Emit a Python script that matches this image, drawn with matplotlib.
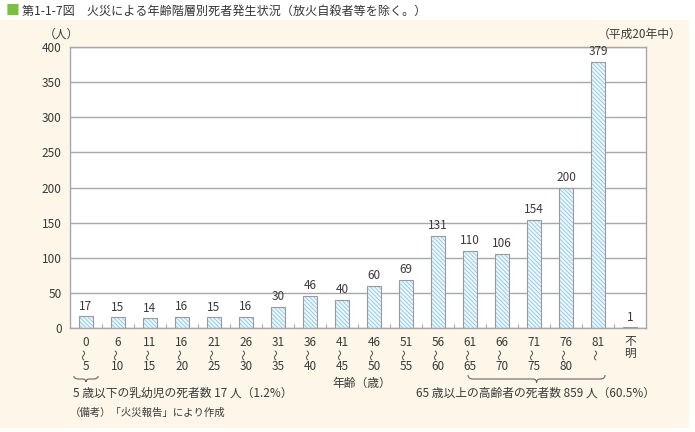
import matplotlib
matplotlib.use("Agg")
import matplotlib.pyplot as plt
from matplotlib.patches import Rectangle
from matplotlib.path import Path
from matplotlib.patches import PathPatch
import numpy as np

plt.rcParams['font.family'] = ['Noto Sans CJK JP', 'DejaVu Sans']
plt.rcParams['hatch.linewidth'] = 0.6

# data
age_top = ['0', '6', '11', '16', '21', '26', '31', '36', '41', '46', '51',
           '56', '61', '66', '71', '76', '81', '不']
age_bottom = ['5', '10', '15', '20', '25', '30', '35', '40', '45', '50', '55',
              '60', '65', '70', '75', '80', '', '明']
deaths = [17, 15, 14, 16, 15, 16, 30, 46, 40, 60, 69, 131, 110, 106, 154, 200, 379, 1]

W, H = 695, 432
fig = plt.figure(figsize=(W / 100, H / 100), dpi=100)
fig.patch.set_facecolor('white')

bg = '#fdf6e9'
fig.patches.append(Rectangle((0, 4 / H), 689 / W, 1 - 24 / H, transform=fig.transFigure,
                             facecolor=bg, edgecolor='none', zorder=-10))

ax = fig.add_axes([70 / W, 1 - 328 / H, 576 / W, 281 / H])
ax.set_facecolor('white')

txt = '#3a3a3a'
grid = '#a8a8a8'
x = np.arange(len(deaths))
bw = 0.42
ax.bar(x, deaths, width=bw, color='#eef7fc', edgecolor='#86c6e8', hatch='\\' * 8,
       linewidth=0, zorder=2)
ax.bar(x, deaths, width=bw, color='none', edgecolor='#9a9a9a', linewidth=0.8, zorder=3)
for xi, v in zip(x, deaths):
    ax.text(xi, v + 5, str(v), ha='center', va='bottom', fontsize=8.5, color=txt)

ax.set_xlim(-0.5, len(deaths) - 0.5)
ax.set_ylim(0, 400)
ax.set_yticks(np.arange(0, 401, 50))
ax.yaxis.grid(True, color=grid, linewidth=1.0, zorder=1)
ax.set_axisbelow(True)
ax.tick_params(axis='y', length=0, labelsize=8.5, colors=txt, pad=6)
ax.set_xticks(x)
ax.set_xticklabels([])
ax.tick_params(axis='x', length=0)
ax.set_xticks(np.arange(0.5, len(deaths) - 1, 1), minor=True)
ax.tick_params(axis='x', which='minor', direction='in', length=3, color=grid, width=0.8)
for s in ax.spines.values():
    s.set_color(grid)
    s.set_linewidth(1.0)

# category labels: top / wavy / bottom
tr = matplotlib.transforms.blended_transform_factory(ax.transData, fig.transFigure)
for xi, t, b in zip(x, age_top, age_bottom):
    if t == '不':
        ax.text(xi, 1 - 341 / H, '不', transform=tr, ha='center', va='center',
                fontsize=8.5, color=txt)
        ax.text(xi, 1 - 353 / H, '明', transform=tr, ha='center', va='center',
                fontsize=8.5, color=txt)
        continue
    ax.text(xi, 1 - 342 / H, t, transform=tr, ha='center', va='center',
            fontsize=8.5, color=txt)
    ax.text(xi, 1 - 354.5 / H, '〜', transform=tr, ha='center', va='center',
            fontsize=8, color=txt, rotation=90)
    if b:
        ax.text(xi, 1 - 367 / H, b, transform=tr, ha='center', va='center',
                fontsize=8.5, color=txt)

# title
fig.text(6 / W, 1 - 11 / H, '■', color='#7ac143', fontsize=10, va='center')
fig.text(22 / W, 1 - 11 / H, '第1-1-7図　火災による年齢階層別死者発生状況（放火自殺者等を除く。）',
         fontsize=8.7, color='#333333', va='center')
fig.text(44 / W, 1 - 34 / H, '（人）', fontsize=8.5, color=txt, va='center')
fig.text(682 / W, 1 - 34 / H, '（平成20年中）', fontsize=8.5, color=txt, va='center', ha='right')


def brace(x0, x1, y, h):
    # curly brace pointing down, in data x / figure y
    xm = (x0 + x1) / 2
    verts = [(x0, y), (x0, y - h / 2), (x0 + 0.15, y - h / 2), (xm - 0.1, y - h / 2),
             (xm, y - h / 2), (xm, y - h),
             (xm, y - h / 2), (xm + 0.1, y - h / 2), (x1 - 0.15, y - h / 2),
             (x1, y - h / 2), (x1, y)]
    codes = [Path.MOVETO, Path.CURVE3, Path.CURVE3, Path.LINETO,
             Path.CURVE3, Path.CURVE3,
             Path.CURVE3, Path.CURVE3, Path.LINETO,
             Path.CURVE3, Path.CURVE3]
    p = PathPatch(Path(verts, codes), transform=tr, facecolor='none',
                  edgecolor='#666666', linewidth=0.8, clip_on=False)
    fig.patches.append(p)


brace(-0.38, 0.38, 1 - 376 / H, 6 / H)
brace(11.94, 16.22, 1 - 375 / H, 8 / H)

fig.text(73 / W, 1 - 393 / H, '5 歳以下の乳幼児の死者数 17 人（1.2%）', fontsize=8.5,
         color=txt, va='center')
fig.text(362 / W, 1 - 383 / H, '年齢（歳）', fontsize=8.5, color=txt, va='center', ha='center')
fig.text(536 / W, 1 - 393 / H, '65 歳以上の高齢者の死者数 859 人（60.5%）', fontsize=8.5,
         color=txt, va='center', ha='center')
fig.text(70 / W, 1 - 413 / H, '（備考）「火災報告」により作成', fontsize=7.5,
         color=txt, va='center')

fig.savefig('out.png', dpi=100, facecolor=fig.get_facecolor())
